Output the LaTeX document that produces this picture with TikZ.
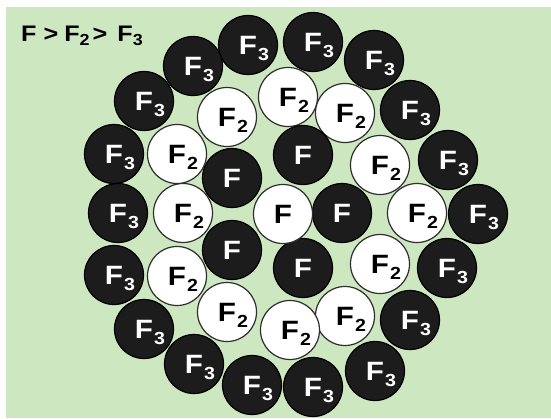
\documentclass[tikz,border=0pt]{standalone}
\usepackage{fontspec}
\setmainfont[FakeStretch=1.12]{Liberation Sans}
\definecolor{bggreen}{HTML}{CDE8C1}
\definecolor{blkfill}{HTML}{1C1C1C}
\definecolor{edgegray}{HTML}{2E2E2E}
\newcommand\lbl[1]{F\rlap{\smash{\kern1pt\raisebox{-6.5pt}{\fontsize{17.5}{17.5}\selectfont #1}}}}
\newcommand\ttsub[1]{\raisebox{-3.5pt}{\fontsize{16}{16}\selectfont #1}}
\begin{document}
\begin{tikzpicture}[x=1pt,y=-1pt,
  ball/.style={circle, minimum size=59pt, inner sep=0pt, line width=1.2pt,
    font=\fontsize{26.5}{26.5}\selectfont\bfseries},
  blk/.style={ball, draw=black, fill=blkfill, text=white},
  wht/.style={ball, draw=edgegray, fill=white, text=black}]
\path[use as bounding box, fill=white] (0,0) rectangle (551,418);
\fill[bggreen] (6,7) rectangle (551,418);
\node[anchor=base west, inner sep=0pt, font=\fontsize{22.5}{22.5}\selectfont\bfseries] (title) at (21,41.5)
  {F\hspace{7pt}>\hspace{6pt}F\ttsub{2}\hspace{3pt}>\hspace{10pt}F\ttsub{3}};
% outer ring F3
\node[blk] (t1) at (248,45) {\lbl{3}};
\node[blk] (t2) at (313,42) {\lbl{3}};
\node[blk] (t3) at (374,60) {\lbl{3}};
\node[blk] (t4) at (410,110) {\lbl{3}};
\node[blk] (t5) at (448,160) {\lbl{3}};
\node[blk] (t6) at (478,214) {\lbl{3}};
\node[blk] (t7) at (447,268) {\lbl{3}};
\node[blk] (t8) at (410,320) {\lbl{3}};
\node[blk] (t9) at (375,371) {\lbl{3}};
\node[blk] (t10) at (313,387) {\lbl{3}};
\node[blk] (t11) at (252,385) {\lbl{3}};
\node[blk] (t12) at (194,364) {\lbl{3}};
\node[blk] (t13) at (144,329) {\lbl{3}};
\node[blk] (t14) at (114,275) {\lbl{3}};
\node[blk] (t15) at (118,213) {\lbl{3}};
\node[blk] (t16) at (114,154) {\lbl{3}};
\node[blk] (t17) at (144,101) {\lbl{3}};
\node[blk] (t18) at (193,66) {\lbl{3}};
% middle ring F2
\node[wht] (s1) at (227,117) {\lbl{2}};
\node[wht] (s2) at (288,97) {\lbl{2}};
\node[wht] (s3) at (345,113) {\lbl{2}};
\node[wht] (s4) at (380,165) {\lbl{2}};
\node[wht] (s5) at (417,213) {\lbl{2}};
\node[wht] (s6) at (380,264) {\lbl{2}};
\node[wht] (s7) at (345,316) {\lbl{2}};
\node[wht] (s8) at (290,330) {\lbl{2}};
\node[wht] (s9) at (227,312) {\lbl{2}};
\node[wht] (s10) at (177,276) {\lbl{2}};
\node[wht] (s11) at (183,213) {\lbl{2}};
\node[wht] (s12) at (177,154) {\lbl{2}};
% inner F
\node[blk] (f1) at (232,178) {F};
\node[blk] (f2) at (303,155) {F};
\node[blk] (f3) at (342,213) {F};
\node[blk] (f4) at (303,268) {F};
\node[blk] (f5) at (232,250) {F};
\node[wht] (c0) at (283,214) {F};
\end{tikzpicture}
\end{document}
